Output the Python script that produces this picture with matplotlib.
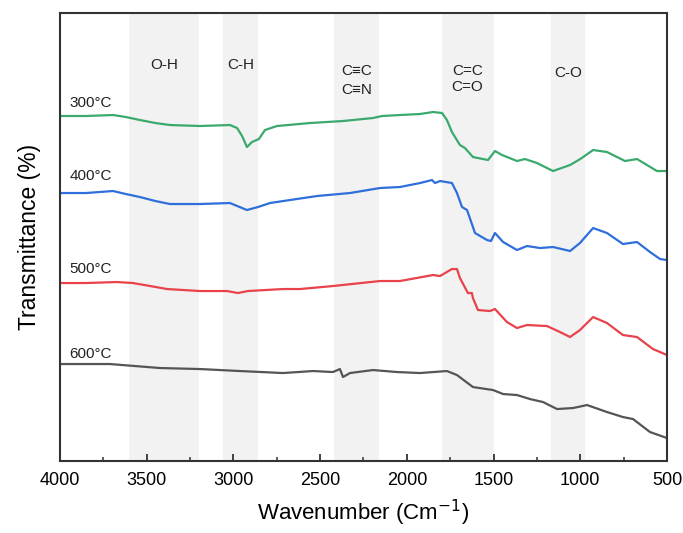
import matplotlib
matplotlib.use("Agg")
import matplotlib.pyplot as plt
from matplotlib.ticker import MultipleLocator

plt.rcParams['font.family'] = ['Liberation Sans', 'DejaVu Sans']

# wavenumber (cm-1) and transmittance (a.u., offset curves)
wn_300 = [4000, 3850, 3694, 3620, 3539, 3450, 3366, 3193, 3020, 2979, 2950, 2922, 2893, 2853, 2818,
          2749, 2558, 2368, 2195, 2143, 2040, 1924, 1849, 1797, 1769, 1740, 1694, 1665, 1619, 1532,
          1492, 1451, 1365, 1319, 1250, 1157, 1059, 1000, 926, 846, 742, 673, 558, 500]
t_300 = [345, 345, 346, 344, 341, 338, 336, 335, 336, 333, 325, 314, 319, 322, 331,
         335, 338, 340, 343, 345, 346, 347, 349, 348, 341, 329, 316, 313, 304, 301,
         310, 306, 300, 302, 298, 290, 296, 302, 311, 309, 300, 302, 290, 290]

wn_400 = [4000, 3850, 3694, 3620, 3539, 3450, 3366, 3193, 3020, 2922, 2858, 2789, 2674, 2518, 2328,
          2155, 2040, 1924, 1855, 1838, 1809, 1740, 1711, 1682, 1653, 1607, 1538, 1515, 1492, 1445,
          1365, 1307, 1232, 1157, 1059, 1002, 926, 846, 754, 673, 598, 540, 500]
t_400 = [268, 268, 270, 267, 264, 260, 257, 257, 258, 251, 254, 258, 261, 265, 268,
         273, 274, 278, 281, 278, 280, 278, 268, 254, 251, 228, 221, 220, 228, 219,
         211, 215, 213, 214, 210, 218, 233, 228, 217, 219, 209, 202, 201]

wn_500 = [4000, 3850, 3671, 3579, 3480, 3383, 3193, 3037, 2974, 2916, 2714, 2616, 2426, 2155, 2040,
          1849, 1809, 1740, 1711, 1694, 1648, 1625, 1619, 1590, 1521, 1492, 1423, 1365, 1307, 1192,
          1117, 1059, 1002, 926, 846, 754, 673, 581, 500]
t_500 = [178, 178, 179, 178, 175, 172, 170, 170, 168, 170, 172, 172, 175, 180, 180,
         186, 185, 192, 192, 183, 168, 168, 163, 151, 150, 152, 139, 133, 136, 135,
         129, 124, 131, 144, 138, 126, 124, 112, 106]

wn_600 = [4000, 3712, 3423, 3193, 2962, 2714, 2541, 2426, 2386, 2368, 2328, 2195, 2057, 1924, 1769,
          1711, 1619, 1503, 1445, 1365, 1290, 1215, 1134, 1042, 961, 846, 754, 696, 598, 500]
t_600 = [97, 97, 93, 92, 90, 88, 90, 89, 92, 84, 88, 91, 89, 88, 90,
         86, 74, 71, 67, 66, 62, 59, 52, 53, 56, 49, 44, 42, 29, 23]

series = [
    (wn_300, t_300, '#3aaa6c', '300°C', 358),
    (wn_400, t_400, '#2e6fdb', '400°C', 285),
    (wn_500, t_500, '#e8424b', '500°C', 192),
    (wn_600, t_600, '#555555', '600°C', 107),
]

# absorption bands: (high, low, label lines with their heights)
bands = [
    (3600, 3200, [('O-H', 396)]),
    (3060, 2860, [('C-H', 396)]),
    (2420, 2160, [('C≡C', 390), ('C≡N', 371)]),
    (1800, 1500, [('C=C', 390), ('C=O', 374)]),
    (1170, 970, [('C-O', 388)]),
]

fig = plt.figure(figsize=(6.83, 5.33), dpi=100)
ax = fig.add_axes([0.0878, 0.135, 0.8888, 0.8406])

for hi, lo, lines in bands:
    ax.axvspan(lo, hi, color='#f2f2f2', lw=0, zorder=0)
    for name, ly in lines:
        ax.text((hi + lo) / 2, ly, name, ha='center', va='center', fontsize=11,
                color='#222222')

for wn, t, c, lab, ly in series:
    ax.plot(wn, t, color=c, lw=1.6)
    ax.text(3945, ly, lab, ha='left', va='center', fontsize=11, color='#222222')

ax.set_xlim(4000, 500)
ax.set_ylim(0, 448)
ax.xaxis.set_major_locator(MultipleLocator(500))
ax.xaxis.set_minor_locator(MultipleLocator(250))
ax.tick_params(axis='x', which='major', direction='in', length=5, width=1.3,
               labelsize=13, pad=8, color='#333333')
ax.tick_params(axis='x', which='minor', direction='in', length=3, width=1.1, color='#333333')
ax.set_yticks([])
for s in ax.spines.values():
    s.set_linewidth(1.5)
    s.set_color('#333333')

ax.set_xlabel('Wavenumber (Cm$^{-1}$)', fontsize=16, labelpad=6)
ax.set_ylabel('Transmittance (%)', fontsize=16.5, labelpad=14)

fig.savefig('out.png', dpi=100)
